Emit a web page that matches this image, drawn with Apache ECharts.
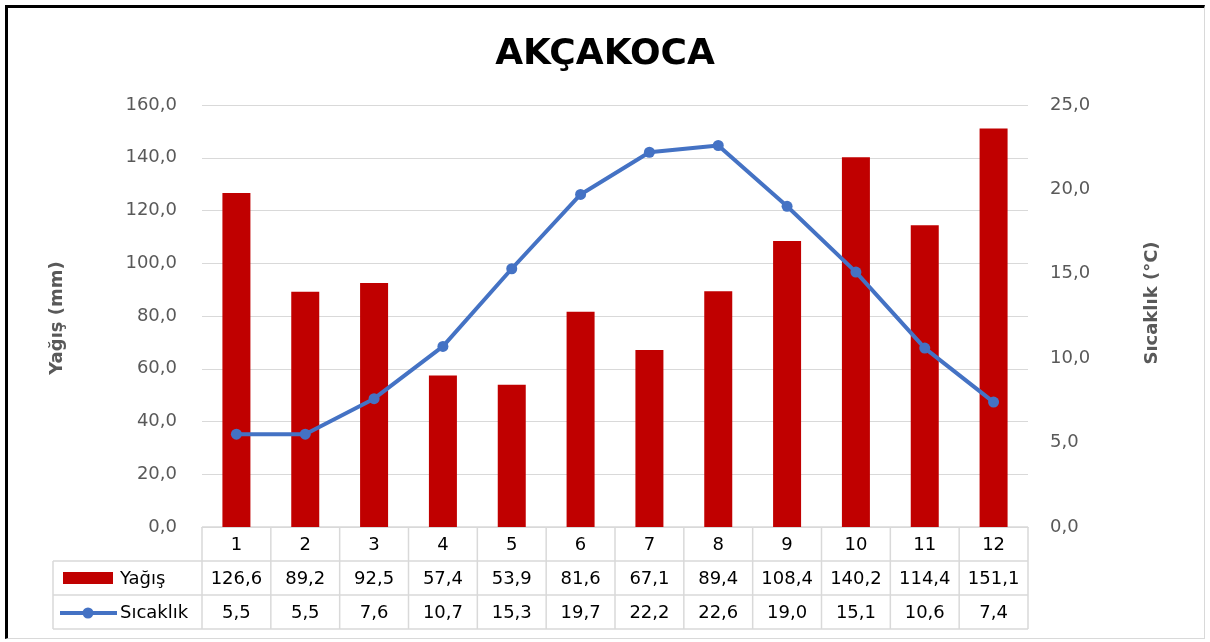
<!DOCTYPE html>
<html><head><meta charset="utf-8">
<script src="https://cdn.jsdelivr.net/npm/echarts@6/dist/echarts.min.js"></script>
<style>
html,body{margin:0;padding:0;background:#fff;}
#frame{position:absolute;left:5px;top:5px;width:1200px;height:634px;box-sizing:border-box;border-left:3px solid #000;border-top:3px solid #000;border-right:1px solid #d9d9d9;border-bottom:1px solid #d9d9d9;}
#c{position:absolute;left:0;top:0;width:1210px;height:642px;}
</style></head>
<body><div id="frame"></div><div id="c"></div>
<script>
const months = ['1','2','3','4','5','6','7','8','9','10','11','12'];
const rain = [126.6, 89.2, 92.5, 57.4, 53.9, 81.6, 67.1, 89.4, 108.4, 140.2, 114.4, 151.1];
const temp = [5.5, 5.5, 7.6, 10.7, 15.3, 19.7, 22.2, 22.6, 19.0, 15.1, 10.6, 7.4];
const rainName = 'Yağış';
const tempName = 'Sıcaklık';
const rainAxisName = 'Yağış (mm)';
const tempAxisName = 'Sıcaklık (°C)';
const titleText = 'AKÇAKOCA';

const FONT = '"DejaVu Sans", Verdana, sans-serif';
const fmt = v => Number(v).toFixed(1).replace('.', ',');
const chart = echarts.init(document.getElementById('c'), null, {renderer: 'canvas'});
const GL = 202, GR = 1028, GT = 105, GB = 527;
const option = {
  backgroundColor: 'transparent',
  animation: false,
  title: {text: titleText, left: 'center', top: 32, textStyle: {fontFamily: FONT, fontSize: 36, fontWeight: 'bold', color: '#000'}},
  grid: {left: GL, right: 1210 - GR, top: GT, bottom: 642 - GB, containLabel: false},
  xAxis: {type: 'category', data: months, axisLine: {lineStyle: {color: '#d9d9d9', width: 1}}, axisTick: {show: false}, axisLabel: {show: false}, splitLine: {show: false}},
  yAxis: [
    {type: 'value', min: 0, max: 160, interval: 20,
     axisLine: {show: false}, axisTick: {show: false},
     axisLabel: {formatter: fmt, margin: 25, fontFamily: FONT, fontSize: 18, color: '#595959'},
     splitLine: {lineStyle: {color: '#d9d9d9', width: 1}}},
    {type: 'value', min: 0, max: 25, interval: 5,
     axisLine: {show: false}, axisTick: {show: false},
     axisLabel: {formatter: fmt, margin: 22, fontFamily: FONT, fontSize: 18, color: '#595959'},
     splitLine: {show: false}}
  ],
  series: [
    {name: rainName, type: 'bar', data: rain, yAxisIndex: 0, barWidth: 28, itemStyle: {color: '#C00000'}},
    {name: tempName, type: 'line', data: temp, yAxisIndex: 1, symbol: 'circle', symbolSize: 11,
     lineStyle: {color: '#4472C4', width: 4}, itemStyle: {color: '#4472C4'}, z: 5}
  ]
};
chart.setOption(option);

// data table built from arrays
const rowH = 34, R0 = GB, R1 = GB + rowH, R2 = GB + 2 * rowH, R3 = GB + 3 * rowH;
const TL = 53;
const catW = (GR - GL) / months.length;
const g = [];
const lineStyle = {stroke: '#d9d9d9', lineWidth: 1.5};
function hl(x1, x2, y) { g.push({type: 'line', shape: {x1, y1: y, x2, y2: y}, style: lineStyle, silent: true}); }
function vl(x, y1, y2) { g.push({type: 'line', shape: {x1: x, y1, x2: x, y2}, style: lineStyle, silent: true}); }
hl(GL, GR, R0); hl(TL, GR, R1); hl(TL, GR, R2); hl(TL, GR, R3);
vl(TL, R1, R3);
for (let i = 0; i <= months.length; i++) vl(GL + i * catW, R0, R3);
function txt(x, y, t, align) {
  g.push({type: 'text', x, y, style: {text: t, fill: '#000', font: '18px ' + FONT, textAlign: align || 'center', textVerticalAlign: 'middle'}, silent: true});
}
months.forEach((m, i) => {
  const cx = chart.convertToPixel({xAxisIndex: 0}, m);
  txt(cx, (R0 + R1) / 2 + 1, m);
  txt(cx, (R1 + R2) / 2 + 1, fmt(rain[i]));
  txt(cx, (R2 + R3) / 2 + 1, fmt(temp[i]));
});
// legend keys
g.push({type: 'rect', shape: {x: 63, y: 572, width: 50, height: 12}, style: {fill: '#C00000'}, silent: true});
txt(120, (R1 + R2) / 2 + 1, rainName, 'left');
g.push({type: 'line', shape: {x1: 60, y1: 613, x2: 117, y2: 613}, style: {stroke: '#4472C4', lineWidth: 4}, silent: true});
g.push({type: 'circle', shape: {cx: 88, cy: 613, r: 5.5}, style: {fill: '#4472C4'}, silent: true});
txt(120, (R2 + R3) / 2 + 1, tempName, 'left');
// axis names
function axName(x, y, t) {
  g.push({type: 'text', x, y, rotation: Math.PI / 2, style: {text: t, fill: '#595959', font: 'bold 18px ' + FONT, textAlign: 'center', textVerticalAlign: 'middle'}, silent: true});
}
axName(57, 318, rainAxisName);
axName(1152, 303, tempAxisName);
chart.setOption({graphic: g});
</script></body></html>
